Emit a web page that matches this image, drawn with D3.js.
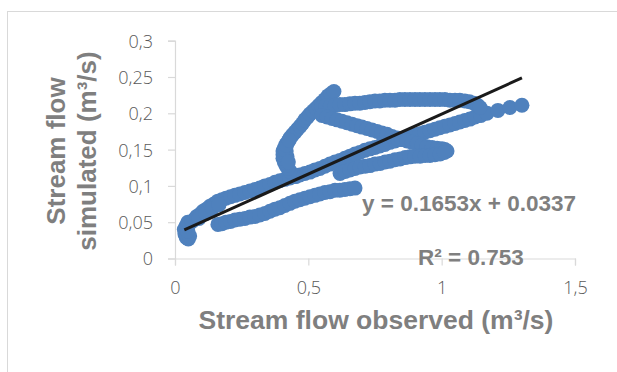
<!DOCTYPE html>
<html><head><meta charset="utf-8">
<script src="https://cdn.jsdelivr.net/npm/d3@7"></script>
<style>
body{margin:0;background:#fff;}
svg{display:block;}
.tick text{font-family:"Open Sans","Liberation Sans",sans-serif;font-weight:300;font-size:18px;fill:#595959;}
</style></head>
<body><svg id="c" width="617" height="372"></svg>
<script>
// Observed (x) and simulated (y) stream flow, m3/s
const observed = [
  0.035,0.037,0.042,0.050,0.055,0.048,0.042,0.048,
  0.064,0.073,0.082,0.094,0.105,0.118,0.131,0.146,0.161,0.176,0.191,0.208,0.225,0.243,0.262,0.281,0.300,0.318,0.337,0.356,0.375,0.393,0.412,0.431,0.450,0.468,0.487,0.506,0.525,0.543,0.562,0.581,0.600,0.618,0.637,0.656,0.675,0.693,0.712,0.731,0.750,0.768,0.787,0.806,0.825,0.843,0.862,0.881,0.900,0.918,0.937,0.956,0.975,0.993,1.012,1.031,1.050,1.068,1.087,1.106,1.125,1.147,1.170,1.211,1.256,1.301,
  0.090,0.115,0.140,0.165,
  0.161,0.176,0.191,0.208,0.225,0.243,0.262,0.281,0.300,0.318,0.337,0.356,0.375,0.393,0.412,0.431,0.450,0.468,0.487,0.506,0.525,0.543,0.562,0.581,0.600,0.618,0.637,0.656,0.675,
  0.454,0.442,0.431,0.424,0.416,0.410,0.405,0.405,0.405,0.410,0.416,0.424,0.431,0.440,0.450,0.459,0.469,0.478,0.487,0.497,0.506,0.518,0.529,0.540,0.551,0.562,0.574,0.585,0.596,
  0.420,0.417,0.418,0.425,0.428,
  0.551,0.566,0.583,0.600,0.618,0.637,0.656,0.675,0.693,0.712,0.731,0.750,0.768,0.787,0.806,0.825,0.843,0.862,0.881,0.900,0.918,0.937,0.956,0.975,0.993,1.012,1.031,1.050,1.068,1.087,1.104,1.121,1.135,1.144,
  0.551,0.570,0.589,0.608,0.626,0.645,0.664,0.683,0.701,0.720,0.739,0.758,0.776,0.795,0.814,0.833,0.851,0.870,0.889,0.908,0.926,0.945,0.964,0.983,1.001,1.012,1.020,
  0.619,0.638,0.656,0.675,0.694,0.713,0.731,0.750,0.769,0.788,0.806,0.825,0.844,0.863,0.881,0.900,0.919,0.938,0.956,0.975,0.994,1.010
];
const simulated = [
  0.040,0.034,0.029,0.027,0.031,0.038,0.045,0.050,
  0.051,0.054,0.058,0.061,0.065,0.068,0.072,0.075,0.079,0.081,0.083,0.085,0.087,0.089,0.091,0.093,0.095,0.097,0.100,0.102,0.105,0.107,0.109,0.111,0.113,0.115,0.117,0.119,0.122,0.124,0.127,0.130,0.133,0.135,0.138,0.141,0.144,0.146,0.149,0.151,0.153,0.155,0.157,0.160,0.162,0.164,0.166,0.168,0.170,0.172,0.174,0.176,0.178,0.180,0.182,0.184,0.186,0.188,0.190,0.192,0.195,0.197,0.200,0.204,0.208,0.211,
  0.055,0.062,0.069,0.074,
  0.047,0.048,0.050,0.051,0.053,0.054,0.055,0.057,0.058,0.060,0.062,0.065,0.068,0.070,0.073,0.076,0.079,0.081,0.083,0.085,0.087,0.089,0.091,0.092,0.094,0.094,0.095,0.096,0.097,
  0.113,0.116,0.120,0.124,0.128,0.133,0.138,0.143,0.148,0.152,0.157,0.161,0.166,0.170,0.174,0.178,0.182,0.186,0.191,0.195,0.199,0.203,0.207,0.211,0.215,0.219,0.224,0.227,0.230,
  0.140,0.148,0.156,0.133,0.163,
  0.209,0.210,0.210,0.211,0.212,0.212,0.213,0.214,0.214,0.215,0.216,0.217,0.217,0.218,0.218,0.218,0.219,0.219,0.219,0.219,0.219,0.219,0.219,0.219,0.219,0.219,0.218,0.218,0.218,0.217,0.216,0.214,0.211,0.208,
  0.197,0.195,0.193,0.191,0.189,0.187,0.185,0.183,0.181,0.179,0.177,0.175,0.173,0.171,0.168,0.166,0.164,0.162,0.160,0.158,0.156,0.154,0.153,0.152,0.151,0.150,0.148,
  0.117,0.120,0.122,0.124,0.126,0.127,0.128,0.130,0.131,0.133,0.134,0.136,0.137,0.139,0.140,0.141,0.141,0.142,0.142,0.143,0.144,0.146
];
const xTicks = [0, 0.5, 1, 1.5];
const xTickLabels = ["0", "0,5", "1", "1,5"];
const yTicks = [0, 0.05, 0.1, 0.15, 0.2, 0.25, 0.3];
const yTickLabels = ["0", "0,05", "0,1", "0,15", "0,2", "0,25", "0,3"];
const slope = 0.1653, intercept = 0.0337, r2 = "0.753";
const xTitle = "Stream flow observed (m³/s)";
const yTitleLines = ["Stream flow", "simulated (m³/s)"];

const svg = d3.select("#c");
svg.append("rect").attr("x",7.5).attr("y",11.5).attr("width",700).attr("height",400)
  .attr("fill","none").attr("stroke","#d9d9d9").attr("stroke-width",1);

const x = d3.scaleLinear().domain([0,1.5]).range([175,575]);
const y = d3.scaleLinear().domain([0,0.3]).range([258.5,40.7]);

const gx = svg.append("g").attr("transform","translate(0,258.5)")
  .call(d3.axisBottom(x).tickValues(xTicks).tickFormat((d,i)=>xTickLabels[i]).tickSize(7).tickPadding(16));
const gy = svg.append("g").attr("transform","translate(175,0)")
  .call(d3.axisLeft(y).tickValues(yTicks).tickFormat((d,i)=>yTickLabels[i]).tickSize(7).tickPadding(15));
[gx,gy].forEach(g=>{
  g.selectAll("path,line").attr("stroke","#d9d9d9").attr("stroke-width",1.2);
});
gy.selectAll(".tick text").attr("dy","0.36em");

const pts = observed.map((o,i)=>[o, simulated[i]]);
svg.append("g").selectAll("circle").data(pts).join("circle")
  .attr("cx",d=>x(d[0])).attr("cy",d=>y(d[1])).attr("r",7.5)
  .attr("fill","#4f81bd");

const x0 = d3.min(observed), x1 = d3.max(observed);
svg.append("line").attr("x1",x(x0)).attr("y1",y(slope*x0+intercept))
  .attr("x2",x(x1)).attr("y2",y(slope*x1+intercept))
  .attr("stroke","#1a1a1a").attr("stroke-width",3);

const tf = 'font-family:"Liberation Sans",Arial,sans-serif;font-weight:bold;fill:#7f7f7f;';
svg.append("text").attr("x",362).attr("y",211).attr("style",tf+"font-size:22.5px")
  .text(`y = ${slope}x + ${intercept}`);
svg.append("text").attr("x",418).attr("y",265).attr("style",tf+"font-size:22.5px")
  .text(`R² = ${r2}`);

svg.append("text").attr("x",376).attr("y",329).attr("text-anchor","middle")
  .attr("style",tf+"font-size:26.5px").text(xTitle);
const yt = svg.append("g").attr("transform","translate(0,151) rotate(-90)");
yTitleLines.forEach((t,i)=>{
  yt.append("text").attr("x",0).attr("y",65+i*31).attr("text-anchor","middle")
    .attr("style",tf+"font-size:26px").text(t);
});
</script></body></html>
